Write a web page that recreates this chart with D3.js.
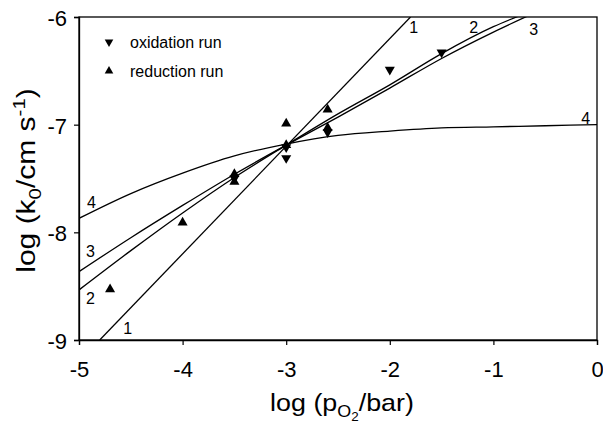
<!DOCTYPE html>
<html><head><meta charset="utf-8">
<script src="https://cdn.jsdelivr.net/npm/d3@7"></script>
<style>body{margin:0;background:#fff}svg{display:block}text{font-family:"Liberation Sans",Arial,sans-serif;fill:#000}</style>
</head><body><div id="chart"></div>
<script>
// ---- data ----
const xTicks = [-5, -4, -3, -2, -1, 0];
const yTicks = [-9, -8, -7, -6];

// fitted curves (log pO2 vs log k0)
const line1X = [-4.8, -1.8];
const line1Y = [-9.0, -6.0];
const line2X = [-5, -4.5, -4, -3.5, -3, -2.5, -2, -1.5, -1, -0.7];
const line2Y = [-8.535, -8.17, -7.82, -7.49, -7.19, -6.90, -6.63, -6.34, -6.09, -5.97];
const line3X = [-5, -4.5, -4, -3.5, -3, -2.5, -2, -1.5, -1, -0.6];
const line3Y = [-8.365, -8.05, -7.75, -7.46, -7.19, -6.93, -6.66, -6.385, -6.14, -5.96];
const line4X = [-5, -4.5, -4, -3.5, -3, -2.5, -2, -1.5, -1, -0.5, 0];
const line4Y = [-7.87, -7.64, -7.45, -7.29, -7.18, -7.10, -7.06, -7.03, -7.02, -7.01, -7.00];

// measured points
const oxX = [-1.5, -2.0, -2.6, -3.0, -3.0, -3.5];
const oxY = [-6.33, -6.49, -7.07, -7.31, -7.21, -7.50];
const redX = [-4.7, -4.0, -3.5, -3.5, -3.0, -3.0, -2.6, -2.6];
const redY = [-8.53, -7.91, -7.46, -7.53, -6.99, -7.19, -6.86, -7.03];

// curve number labels (data coordinates)
const lblText = ["1", "2", "3", "4", "4", "3", "2", "1"];
const lblX = [-1.77, -1.19, -0.61, -0.11, -4.88, -4.89, -4.89, -4.53];
const lblY = [-6.10, -6.10, -6.12, -6.94, -7.72, -8.18, -8.61, -8.89];

const legendLabels = ["oxidation run", "reduction run"];

// ---- drawing ----
const W = 603, H = 427;
const m = {l: 79, r: 6, t: 17, b: 87};
const svg = d3.select("#chart").append("svg").attr("width", W).attr("height", H);
const x = d3.scaleLinear().domain([-5, 0]).range([m.l, W - m.r]);
const y = d3.scaleLinear().domain([-9, -6]).range([H - m.b, m.t]);

svg.append("clipPath").attr("id", "clip").append("rect")
  .attr("x", m.l).attr("y", m.t).attr("width", x(0) - m.l).attr("height", y(-9) - m.t);

const g = svg.append("g").attr("clip-path", "url(#clip)");
const line = d3.line().x(d => x(d[0])).y(d => y(d[1])).curve(d3.curveMonotoneX);
[[line1X, line1Y], [line2X, line2Y], [line3X, line3Y], [line4X, line4Y]].forEach(([xs, ys]) => {
  g.append("path").datum(xs.map((v, i) => [v, ys[i]]))
    .attr("d", line).attr("fill", "none").attr("stroke", "#000").attr("stroke-width", 1.3);
});

const tri = d3.symbol().type(d3.symbolTriangle).size(44);
svg.append("g").selectAll("path").data(oxX.map((v, i) => [v, oxY[i]])).join("path")
  .attr("d", tri).attr("transform", d => `translate(${x(d[0])},${y(d[1])}) rotate(180)`);
svg.append("g").selectAll("path").data(redX.map((v, i) => [v, redY[i]])).join("path")
  .attr("d", tri).attr("transform", d => `translate(${x(d[0])},${y(d[1])})`);

// frame
svg.append("rect").attr("x", m.l).attr("y", m.t).attr("width", x(0) - m.l).attr("height", y(-9) - m.t)
  .attr("fill", "none").attr("stroke", "#000").attr("stroke-width", 1.3);

// axes
const xa = svg.append("g").attr("transform", `translate(0,${y(-9)})`)
  .call(d3.axisBottom(x).tickValues(xTicks).tickSize(5).tickFormat(d3.format("d")));
const ya = svg.append("g").attr("transform", `translate(${m.l},0)`)
  .call(d3.axisLeft(y).tickValues(yTicks).tickSize(5).tickFormat(d3.format("d")));
[xa, ya].forEach(a => {
  a.select(".domain").attr("stroke-width", 1.3);
  a.selectAll(".tick line").attr("stroke-width", 1.2);
  a.selectAll("text").style("font-size", "22px").attr("font-family", "Liberation Sans, Arial, sans-serif");
});
xa.selectAll("text").attr("dy", "0.71em").attr("y", 21);
ya.selectAll("text").attr("x", -12).attr("dy", "0.38em");
xa.selectAll(".tick text").text(d => d === 0 ? "0" : "-" + Math.abs(d));
ya.selectAll(".tick text").text(d => "-" + Math.abs(d));

// curve labels
svg.append("g").selectAll("text").data(lblText.map((t, i) => [t, lblX[i], lblY[i]])).join("text")
  .attr("x", d => x(d[1])).attr("y", d => y(d[2])).attr("text-anchor", "middle")
  .attr("dominant-baseline", "central").style("font-size", "16px").text(d => d[0]);

// legend
const lg = svg.append("g");
legendLabels.forEach((t, i) => {
  const ly = 42 + i * 29;
  lg.append("path").attr("d", d3.symbol().type(d3.symbolTriangle).size(32))
    .attr("transform", `translate(109,${ly}) ${i === 0 ? "rotate(180)" : ""}`);
  lg.append("text").attr("x", 130).attr("y", ly).attr("dominant-baseline", "central")
    .style("font-size", "16px").text(t);
});

// axis titles
const xt = svg.append("text")
  .attr("transform", `translate(${(m.l + x(0)) / 2 + 4},411) scale(1.12,1)`)
  .attr("text-anchor", "middle").style("font-size", "24px");
xt.append("tspan").text("log (p");
xt.append("tspan").attr("dy", 6).style("font-size", "16px").text("O");
xt.append("tspan").attr("dy", 4).style("font-size", "12px").text("2");
xt.append("tspan").attr("dy", -10).text("/bar)");

const yt = svg.append("text")
  .attr("transform", `translate(35,${(m.t + y(-9)) / 2 + 2}) rotate(-90) scale(1.2,1)`)
  .attr("text-anchor", "middle").style("font-size", "25px");
yt.append("tspan").text("log (k");
yt.append("tspan").attr("dy", 6).style("font-size", "17px").text("0");
yt.append("tspan").attr("dy", -6).text("/cm s");
yt.append("tspan").attr("dy", -10).style("font-size", "17px").text("-1");
yt.append("tspan").attr("dy", 10).text(")");
</script></body></html>
